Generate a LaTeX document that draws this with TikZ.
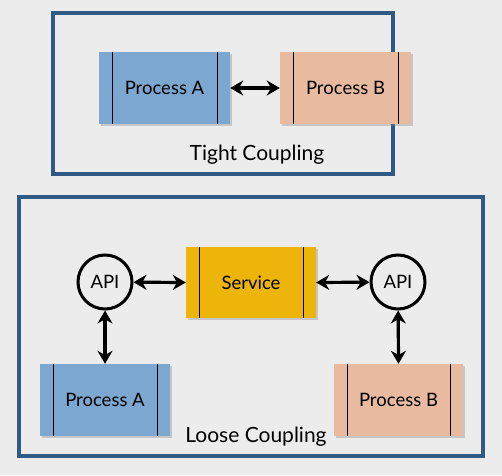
\documentclass[tikz,border=0pt]{standalone}
\usepackage{fontspec}
\setmainfont{Lato}
\usetikzlibrary{arrows.meta,shadows}

\definecolor{fondo}{RGB}{236,236,236}
\definecolor{marco}{RGB}{47,90,133}
\definecolor{azulproc}{RGB}{123,167,208}
\definecolor{salmonproc}{RGB}{232,187,160}
\definecolor{amarserv}{RGB}{237,180,10}

\tikzset{
  caja/.style={minimum width=131pt, minimum height=72pt, inner sep=0pt,
    font=\fontsize{18.5}{20}\selectfont,
    drop shadow={shadow xshift=2pt, shadow yshift=-2pt, opacity=0.35},
    path picture={
      \draw[line width=1pt] ([xshift=13pt]path picture bounding box.north west) -- ([xshift=13pt]path picture bounding box.south west);
      \draw[line width=1pt] ([xshift=-13pt]path picture bounding box.north east) -- ([xshift=-13pt]path picture bounding box.south east);
    }},
  api/.style={circle, draw, line width=3pt, minimum size=54pt, inner sep=0pt,
    font=\fontsize{18.5}{20}\selectfont},
  flecha/.style={line width=3.2pt, {Stealth[length=13pt,width=15pt]}-{Stealth[length=13pt,width=15pt]}},
  marcobox/.style={draw=marco, line width=3.2pt},
  titulo/.style={font=\fontsize{21}{24}\selectfont}
}

\begin{document}
\begin{tikzpicture}[x=1pt,y=1pt]
        % Fondo
        \fill[fondo] (0,0) rectangle (502,475);
        \useasboundingbox (0,0) rectangle (502,475);

        % Acoplamiento fuerte
        \draw[marcobox] (53,462) rectangle (393,301);
        \node[caja, fill=azulproc] (procA) at (164.5,387) {Process A};
        \node[caja, fill=salmonproc] (procB) at (345.5,387) {Process B};
        \node[titulo] (tight) at (257,320) {Tight Coupling};
        \draw[flecha] (procA.east) -- (procB.west);

        % Acoplamiento débil
        \draw[marcobox] (19,278) rectangle (483,19);
        \node[caja, fill=amarserv, minimum height=71pt, minimum width=130pt] (serv) at (251,192.5) {Service};
        \node[api] (apiA) at (105,193) {API};
        \node[api] (apiB) at (398,193) {API};
        \node[caja, fill=azulproc, minimum width=130pt] (procA2) at (105,75) {Process A};
        \node[caja, fill=salmonproc, minimum width=129pt] (procB2) at (398.5,75) {Process B};
        \node[titulo] (loose) at (256,38) {Loose Coupling};

        % Flechas
        \draw[flecha] (apiA) -- (serv.west);
        \draw[flecha] (serv.east) -- (apiB);
        \draw[flecha] (apiA) -- (procA2.north);
        \draw[flecha] (apiB) -- (procB2.north);
\end{tikzpicture}
\end{document}
